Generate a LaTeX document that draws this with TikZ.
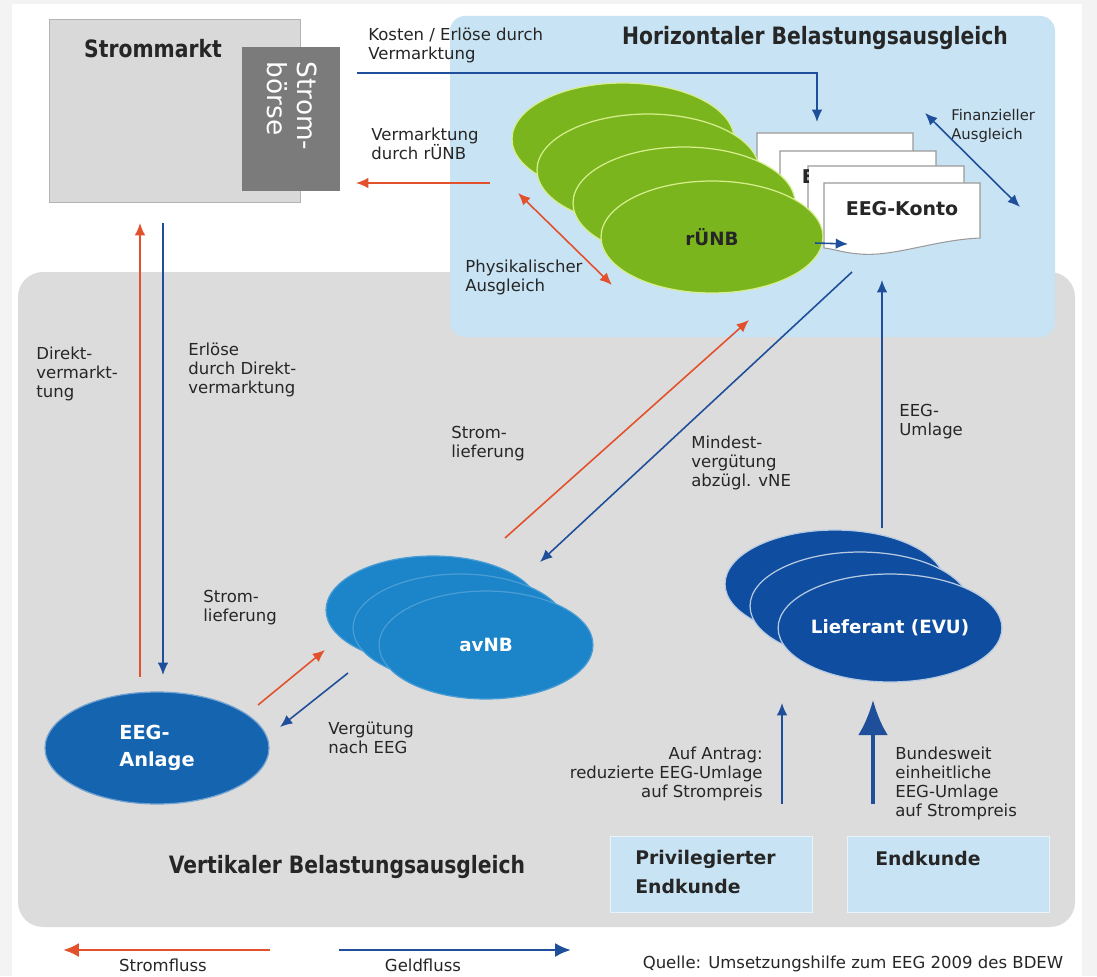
\documentclass[tikz,border=0pt]{standalone}
\usepackage{fontspec}
\setmainfont{DejaVu Sans}
\newfontfamily\headfont{DejaVu Sans}[FakeStretch=0.85]
\usetikzlibrary{arrows.meta,shapes.geometric}

\definecolor{framegray}{HTML}{F3F3F3}
\definecolor{vertgray}{HTML}{DCDCDC}
\definecolor{horblue}{HTML}{C8E3F3}
\definecolor{marktgray}{HTML}{D9D9D9}
\definecolor{marktline}{HTML}{B3B3B3}
\definecolor{boersegray}{HTML}{7B7B7B}
\definecolor{docline}{HTML}{9A9A9A}
\definecolor{runbgreen}{HTML}{7AB51D}
\definecolor{runbrim}{HTML}{D6EE8C}
\definecolor{avnbblue}{HTML}{1C84C9}
\definecolor{anlageblue}{HTML}{1464B0}
\definecolor{lieferblue}{HTML}{0E4D9F}
\definecolor{stromred}{HTML}{E2502C}
\definecolor{geldblue}{HTML}{1F4F9A}
\definecolor{txtgray}{HTML}{262626}

\tikzset{
  lbl/.style={font=\fontsize{9.4}{10.8}\selectfont, text=txtgray, align=left, inner sep=0pt},
  head/.style={font=\headfont\bfseries\fontsize{13.6}{15}\selectfont, text=txtgray, inner sep=0pt},
  netz/.style={ellipse, inner sep=0pt, line width=0.7pt},
  netztext/.style={font=\bfseries\fontsize{10.4}{15}\selectfont, align=left},
  strom/.style={draw=stromred, line width=0.9pt, -{Latex[length=7pt,width=6pt]}},
  geld/.style={draw=geldblue, line width=0.9pt, -{Latex[length=7pt,width=6pt]}},
  kunde/.style={rectangle, fill=horblue, draw=white!60!horblue, line width=0.8pt,
    minimum width=4.04cm, minimum height=1.52cm, anchor=north west},
  kundetext/.style={font=\bfseries\fontsize{10.7}{16.4}\selectfont, text=txtgray, align=left, inner sep=0pt}
}

\begin{document}
\begin{tikzpicture}[x=0.02cm, y=-0.02cm]
\useasboundingbox (0,0) rectangle (1097,976);
\fill[framegray] (0,0) rectangle (1097,976);
\fill[white] (12,4) rectangle (1082,976);

% Bereiche
\fill[vertgray, rounded corners=0.5cm] (18,272) rectangle (1075,927);
\fill[horblue, rounded corners=0.3cm] (450,16) rectangle (1055,337);
\node[head] (horizontal) at (815,38) {Horizontaler Belastungsausgleich};
\node[head] (vertikal) at (347,867) {Vertikaler Belastungsausgleich};

% Strommarkt
\node[rectangle, fill=marktgray, draw=marktline, line width=0.7pt, minimum width=5.02cm,
  minimum height=3.66cm, anchor=north west] (markt) at (49,19) {};
\node[head] (marktlabel) at (153,49) {Strommarkt};
\node[rectangle, fill=boersegray, minimum width=1.96cm, minimum height=2.88cm,
  anchor=north west] (boerse) at (242,47) {};
\node[rotate=-90, text=white, align=left, inner sep=0pt,
  font=\fontsize{15}{17}\selectfont] (boersetext) at (292,106) {Strom-\\börse};

% EEG-Konten
\foreach \i/\x/\y in {1/757/133, 2/780/151, 3/808/166, 4/824/183}
  \filldraw[fill=white, draw=docline, line width=0.6pt] (\x,\y) -- ++(156,0) -- ++(0,55)
    .. controls +(-46,2) and +(34,3) .. (\x+36,\y+71)
    .. controls +(-16,-1) and +(10,1) .. (\x,\y+65) -- cycle;
\begin{scope}
  \clip (780,151) rectangle (808,200);
  \node[font=\bfseries\fontsize{10.8}{13}\selectfont, text=txtgray] (konto2) at (858,177) {EEG-Konto};
\end{scope}
\node[font=\bfseries\fontsize{10.8}{13}\selectfont, text=txtgray] (konto) at (902,209) {EEG-Konto};

% rUeNB
\foreach \i/\x/\y in {1/623/139, 2/648/170, 3/684/203}
  \node[netz, fill=runbgreen, draw=runbrim, minimum width=4.44cm, minimum height=2.24cm] (runb\i) at (\x,\y) {};
\node[netz, netztext, fill=runbgreen, draw=runbrim, text=txtgray, minimum width=4.44cm,
  minimum height=2.24cm] (runb) at (712,237) {rÜNB};

% avNB
\foreach \i/\x/\y in {1/433/610, 2/460/628}
  \node[netz, fill=avnbblue, draw=avnbblue!80!white, minimum width=4.28cm, minimum height=2.16cm] (avnb\i) at (\x,\y) {};
\node[netz, netztext, fill=avnbblue, draw=avnbblue!80!white, text=white, minimum width=4.28cm,
  minimum height=2.16cm] (avnb) at (486,645) {avNB};

% EEG-Anlage
\node[netz, netztext, fill=anlageblue, draw=anlageblue!60!white, text=white, minimum width=4.48cm,
  minimum height=2.24cm, font=\bfseries\fontsize{11}{15.3}\selectfont] (anlage) at (157,748) {EEG-\\Anlage};

% Lieferant
\foreach \i/\x/\y in {1/835/584, 2/860/606}
  \node[netz, fill=lieferblue, draw=white!70!lieferblue, minimum width=4.4cm, minimum height=2.16cm] (lief\i) at (\x,\y) {};
\node[netz, netztext, fill=lieferblue, draw=white!70!lieferblue, text=white, minimum width=4.4cm,
  minimum height=2.16cm] (lief) at (890,628) {Lieferant (EVU)};

% Endkunden
\node[kunde] (priv) at (610,836) {};
\node[kundetext, anchor=west] (privtext) at (635,872) {Privilegierter\\Endkunde};
\node[kunde] (endk) at (847,836) {};
\node[kundetext, anchor=west] (endktext) at (875,858) {Endkunde};

% Beschriftungen
\node[lbl, anchor=west] (kosten) at (368,45) {Kosten / Erlöse durch\\Vermarktung};
\node[lbl, anchor=west] (vermarkt) at (371,144) {Vermarktung\\durch rÜNB};
\node[lbl, anchor=west] (physik) at (465,277) {Physikalischer\\Ausgleich};
\node[lbl, anchor=west, font=\fontsize{8.4}{10.8}\selectfont] (finanz) at (951,126) {Finanzieller\\Ausgleich};
\node[lbl, anchor=west] (direkt) at (36,374) {Direkt-\\vermarkt-\\tung};
\node[lbl, anchor=west] (erloese) at (188,370) {Erlöse\\durch Direkt-\\vermarktung};
\node[lbl, anchor=west] (lieferung1) at (451,444) {Strom-\\lieferung};
\node[lbl, anchor=west] (mindest) at (691,463) {Mindest-\\vergütung\\abzügl. vNE};
\node[lbl, anchor=west] (umlage) at (899,422) {EEG-\\Umlage};
\node[lbl, anchor=west] (lieferung2) at (203,608) {Strom-\\lieferung};
\node[lbl, anchor=west] (verguetung) at (328,738) {Vergütung\\nach EEG};
\node[lbl, anchor=east, align=right] (antrag) at (763,774) {Auf Antrag:\\reduzierte EEG-Umlage\\auf Strompreis};
\node[lbl, anchor=west] (bundes) at (895,783) {Bundesweit\\einheitliche\\EEG-Umlage\\auf Strompreis};

% Pfeile
\coordinate (kostenA) at (357,73);
\coordinate (kostenB) at (817,122);
\draw[geld] (kostenA) -| (kostenB);
\coordinate (vermA) at (490,183);
\coordinate (vermB) at (356,183);
\draw[strom] (vermA) -- (vermB);
\coordinate (physA) at (518,193);
\coordinate (physB) at (612,285);
\draw[strom, {Latex[length=7pt,width=6pt]}-{Latex[length=7pt,width=6pt]}] (physA) -- (physB);
\coordinate (finA) at (925,113);
\coordinate (finB) at (1020,207);
\draw[geld, {Latex[length=7pt,width=6pt]}-{Latex[length=7pt,width=6pt]}] (finA) -- (finB);
\coordinate (runbA) at (815,243);
\coordinate (kontoB) at (848,244);
\draw[geld] (runbA) -- (kontoB);
\coordinate (mindA) at (852,272);
\coordinate (mindB) at (540,562);
\draw[geld] (mindA) -- (mindB);
\coordinate (lieferA) at (505,538);
\coordinate (lieferB) at (749,320);
\draw[strom] (lieferA) -- (lieferB);
\coordinate (umlA) at (882,528);
\coordinate (umlB) at (882,280);
\draw[geld] (umlA) -- (umlB);
\coordinate (direktA) at (140,677);
\coordinate (direktB) at (140,223);
\draw[strom] (direktA) -- (direktB);
\coordinate (erlA) at (163,223);
\coordinate (erlB) at (163,675);
\draw[geld] (erlA) -- (erlB);
\coordinate (anlageA) at (258,705);
\coordinate (avnbB) at (325,650);
\draw[strom] (anlageA) -- (avnbB);
\coordinate (avnbA) at (348,673);
\coordinate (anlageB) at (280,727);
\draw[geld] (avnbA) -- (anlageB);
\coordinate (privA) at (782,804);
\coordinate (privB) at (782,703);
\draw[geld, line width=0.8pt] (privA) -- (privB);
\coordinate (endkA) at (873,804);
\coordinate (endkB) at (873,700);
\draw[draw=geldblue, line width=2.4pt, -{Latex[length=20pt,width=17pt]}] (endkA) -- (endkB);

% Legende
\coordinate (legStromA) at (270,950);
\coordinate (legStromB) at (63,950);
\draw[strom, line width=1.6pt, -{Latex[length=9pt,width=8pt]}] (legStromA) -- (legStromB);
\coordinate (legGeldA) at (339,950);
\coordinate (legGeldB) at (571,950);
\draw[geld, line width=1.6pt, -{Latex[length=9pt,width=8pt]}] (legGeldA) -- (legGeldB);
\node[lbl] (stromfluss) at (163,965) {Stromfluss};
\node[lbl] (geldfluss) at (423,965) {Geldfluss};
\node[lbl] (quelle) at (853,964) {Quelle: Umsetzungshilfe zum EEG 2009 des BDEW};
\end{tikzpicture}
\end{document}
